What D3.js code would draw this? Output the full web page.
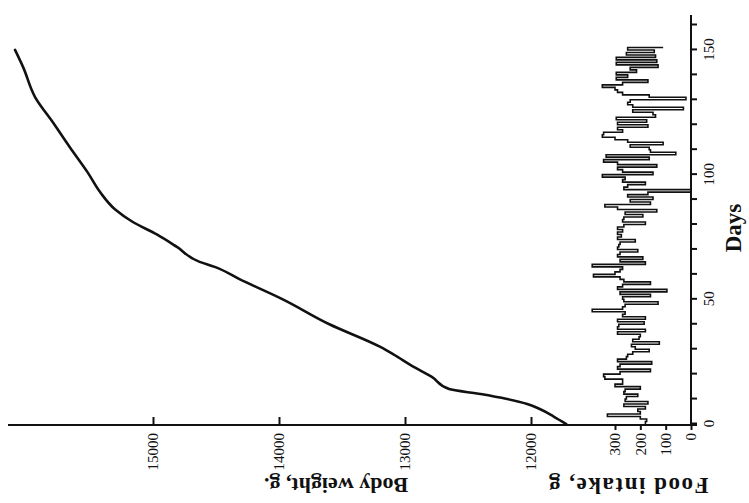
<!DOCTYPE html>
<html>
<head>
<meta charset="utf-8">
<script src="https://cdn.jsdelivr.net/npm/d3@7"></script>
<style>
  body { margin: 0; background: #fff; }
  svg { display: block; }
  text { font-family: "Liberation Serif", "Times New Roman", serif; fill: #111; }
</style>
</head>
<body>
<svg id="chart" width="749" height="503"></svg>
<script>
// body weight curve
var weightDays = [0, 3, 6, 8, 10, 12, 14, 19, 23, 28, 31, 40, 50, 58, 63, 65, 71, 76, 81, 86, 93, 101, 111, 121, 131, 143, 150];
var weights = [11720, 11820, 11930, 12030, 12190, 12400, 12650, 12790, 12935, 13095, 13200, 13600, 13970, 14310, 14510, 14630, 14810, 14970, 15160, 15300, 15420, 15520, 15660, 15795, 15935, 16030, 16095];

// daily food intake, g (day 0 .. 151)
var foodIntake = [180,175,200,330,200,210,180,265,170,260,
  255,210,265,260,200,300,270,270,340,345,
  280,160,290,280,155,290,255,250,230,165,
  220,235,125,230,205,200,290,180,290,285,
  185,290,180,270,260,390,270,260,130,265,
  270,160,280,95,290,270,160,265,280,385,
  300,280,270,390,180,280,190,290,280,210,
  290,285,280,220,290,275,290,270,290,265,
  180,270,265,190,260,135,290,340,160,240,
  150,250,170,0,265,250,180,270,260,350,
  150,270,290,135,290,345,165,335,60,160,
  165,240,110,250,300,350,345,270,290,170,
  290,175,295,140,150,230,30,230,250,240,
  20,165,270,290,300,350,270,170,295,250,
  295,215,240,130,295,135,295,140,255,145,
  250,110];

var dayTicks = d3.range(0, 161, 10);
var dayLabels = [0, 50, 100, 150];
var weightTicks = [12000, 13000, 14000, 15000];
var foodTicks = [0, 100, 200, 300];

var svg = d3.select('#chart');

// the figure is printed turned on its side: draw it upright, then rotate the group
var g = svg.append('g').attr('transform', 'translate(0,503) rotate(-90)');

var x = d3.scaleLinear().domain([0, 160]).range([79, 478]);      // days
var yW = d3.scaleLinear().domain([12000, 15000]).range([531, 153]); // body weight
var yF = d3.scaleLinear().domain([0, 300]).range([691, 615]);    // food intake

// days axis
var xAxis = d3.axisBottom(x)
  .tickValues(dayTicks)
  .tickSize(6)
  .tickPadding(6)
  .tickFormat(function(d) { return dayLabels.indexOf(d) >= 0 ? d : ''; });
var gx = g.append('g').attr('transform', 'translate(0,691)').call(xAxis);
gx.select('.domain').remove();
gx.selectAll('line').attr('stroke', '#111').attr('stroke-width', 2);
gx.selectAll('text').attr('font-size', 15).attr('fill', '#111');

g.append('line')
  .attr('x1', 78).attr('x2', 488)
  .attr('y1', 691).attr('y2', 691)
  .attr('stroke', '#111').attr('stroke-width', 2);

// weight axis
var wAxis = d3.axisLeft(yW).tickValues(weightTicks).tickSize(-8).tickPadding(8)
  .tickFormat(function(d) { return String(d); });
var gw = g.append('g').attr('transform', 'translate(78,0)').call(wAxis);
gw.select('.domain').remove();
gw.selectAll('line').attr('stroke', '#111').attr('stroke-width', 2);
gw.selectAll('text').attr('font-size', 15).attr('fill', '#111');

// food axis (same line)
var fAxis = d3.axisLeft(yF).tickValues(foodTicks).tickSize(5).tickPadding(3)
  .tickFormat(function(d) { return String(d); });
var gf = g.append('g').attr('transform', 'translate(78,0)').call(fAxis);
gf.select('.domain').remove();
gf.selectAll('line').attr('stroke', '#111').attr('stroke-width', 2);
gf.selectAll('text').attr('font-size', 15).attr('fill', '#111');

g.append('line')
  .attr('x1', 78).attr('x2', 78)
  .attr('y1', 8).attr('y2', 697)
  .attr('stroke', '#111').attr('stroke-width', 2);

// food intake step trace
var foodLine = d3.line()
  .x(function(d, i) { return x(i); })
  .y(function(d) { return yF(d); })
  .curve(d3.curveStepAfter);
g.append('path')
  .datum(foodIntake)
  .attr('d', foodLine)
  .attr('fill', 'none')
  .attr('stroke', '#111')
  .attr('stroke-width', 1.6);

// body weight curve
var weightLine = d3.line()
  .x(function(d, i) { return x(weightDays[i]); })
  .y(function(d) { return yW(d); })
  .curve(d3.curveMonotoneX);
g.append('path')
  .datum(weights)
  .attr('d', weightLine)
  .attr('fill', 'none')
  .attr('stroke', '#111')
  .attr('stroke-width', 2.6)
  .attr('stroke-linecap', 'round');

// titles
g.append('text')
  .attr('transform', 'translate(275,741)')
  .attr('text-anchor', 'middle')
  .attr('font-size', 23)
  .attr('font-weight', 'bold')
  .text('Days');

g.append('text')
  .attr('transform', 'translate(25,336) rotate(-90)')
  .attr('text-anchor', 'middle')
  .attr('font-size', 22)
  .attr('font-weight', 'bold')
  .text('Body weight, g.');

g.append('text')
  .attr('transform', 'translate(25,628) rotate(-90)')
  .attr('text-anchor', 'middle')
  .attr('font-size', 23)
  .attr('font-weight', 'bold')
  .attr('letter-spacing', 1.5)
  .text('Food intake, g');
</script>
</body>
</html>
